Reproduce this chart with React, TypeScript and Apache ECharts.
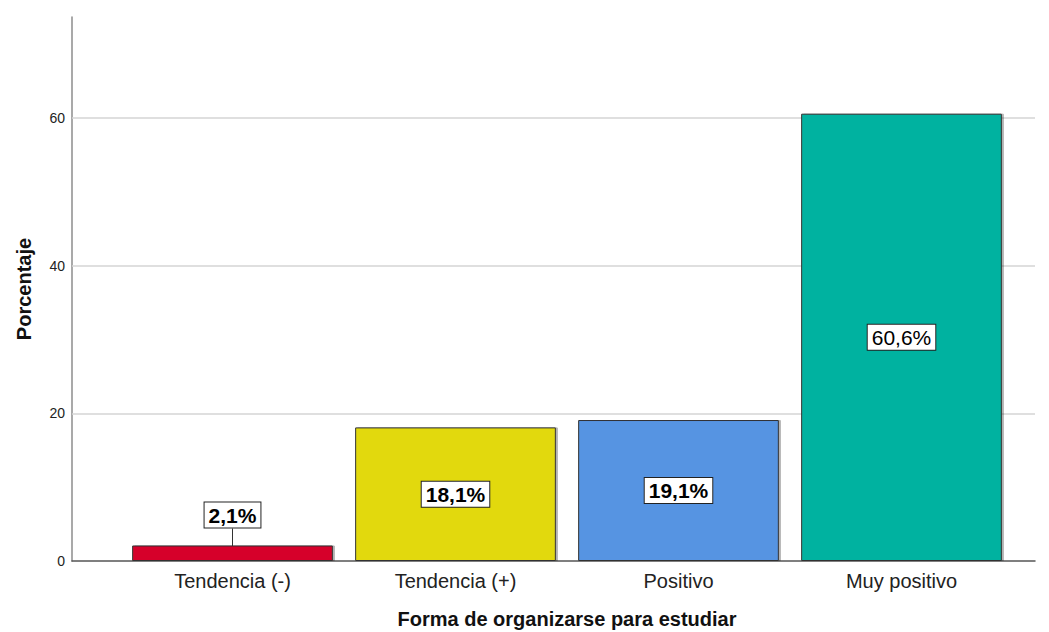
import React, { useEffect, useRef } from "react";
import * as echarts from "echarts";

const categories = ["Tendencia (-)", "Tendencia (+)", "Positivo", "Muy positivo"];
const percentages = [2.1, 18.1, 19.1, 60.6];
const barColors = ["#d6002c", "#e2d90f", "#5694e2", "#00b2a0"];
const gridLineValues = [20, 40, 60];
const yMax = 73.7;
const yTitle = "Porcentaje";
const xTitle = "Forma de organizarse para estudiar";

const FONT = "Arial, 'Liberation Sans', sans-serif";

export default function App() {
  const ref = useRef<HTMLDivElement>(null);
  useEffect(() => {
    if (!ref.current) return;
    const chart = echarts.init(ref.current, undefined, { renderer: "svg" });
    const fmt = (v: number) => v.toFixed(1).replace(".", ",") + "%";
    chart.setOption({
      animation: false,
      backgroundColor: "#ffffff",
      textStyle: { fontFamily: FONT },
      grid: [
        { left: 121, right: 36, top: 17, bottom: 71, containLabel: false, outerBoundsMode: "none" },
        { left: 72, right: 14, top: 17, bottom: 71, containLabel: false, outerBoundsMode: "none" },
      ],
      xAxis: [
        {
          type: "category",
          gridIndex: 0,
          data: categories,
          axisLine: { show: false },
          axisTick: { show: false },
          axisLabel: { fontSize: 20, color: "#222", margin: 10, fontFamily: FONT },
          name: xTitle,
          nameLocation: "middle",
          nameGap: 48,
          nameTextStyle: { fontSize: 20, fontWeight: "bold", color: "#111", fontFamily: FONT },
        },
        {
          type: "value",
          gridIndex: 1,
          min: 0,
          max: 1,
          axisLine: { show: true, lineStyle: { color: "#555", width: 1.5 } },
          axisTick: { show: false },
          axisLabel: { show: false },
          splitLine: { show: false },
        },
      ],
      yAxis: [
        { type: "value", gridIndex: 0, min: 0, max: yMax, show: false },
        {
          type: "value",
          gridIndex: 1,
          min: 0,
          max: yMax,
          interval: 20,
          axisLine: { show: true, lineStyle: { color: "#8c8c8c", width: 1.5 } },
          axisTick: { show: false },
          splitLine: { show: false },
          axisLabel: {
            fontSize: 14,
            color: "#222",
            margin: 7,
            showMaxLabel: false,
            fontFamily: FONT,
            formatter: (v: number) => (v % 20 === 0 ? String(v) : ""),
          },
          name: yTitle,
          nameLocation: "middle",
          nameGap: 38,
          nameRotate: 90,
          nameTextStyle: { fontSize: 20, fontWeight: "bold", color: "#111", fontFamily: FONT },
        },
      ],
      series: [
        {
          type: "line",
          xAxisIndex: 1,
          yAxisIndex: 1,
          data: [],
          z: 1,
          silent: true,
          markLine: {
            silent: true,
            z: 1,
            symbol: ["none", "none"],
            label: { show: false },
            lineStyle: { color: "#d4d4d4", width: 1.5, type: "solid" },
            data: gridLineValues.map((v) => ({ yAxis: v })),
          },
        },
        {
          type: "bar",
          xAxisIndex: 0,
          yAxisIndex: 0,
          z: 3,
          barCategoryGap: "10%",
          data: percentages.map((v, i) => ({
            value: v,
            itemStyle: {
              color: barColors[i],
              borderColor: "#333",
              borderWidth: 1,
              shadowColor: "rgba(0,0,0,0.3)",
              shadowOffsetX: 2,
              shadowOffsetY: 0,
              shadowBlur: 1,
            },
            label: {
              position: i === 0 ? "top" : "inside",
              fontWeight: i === 3 ? "normal" : "bold",
            },
            labelLine: i === 0 ? { show: true, lineStyle: { color: "#333", width: 1 } } : { show: false },
          })),
          label: {
            show: true,
            formatter: (p: any) => fmt(p.value),
            fontSize: 21,
            color: "#000",
            fontFamily: FONT,
            backgroundColor: "#fff",
            borderColor: "#222",
            borderWidth: 1,
            padding: [3, 4, 1, 4],
          },
          labelLayout: (p: any) => (p.dataIndex === 0 ? { dy: -13 } : {}),
        },
      ],
    });
    return () => chart.dispose();
  }, []);
  return (
    <div
      ref={ref}
      style={{ position: "fixed", left: 0, top: 0, width: 1049, height: 632 }}
    />
  );
}
